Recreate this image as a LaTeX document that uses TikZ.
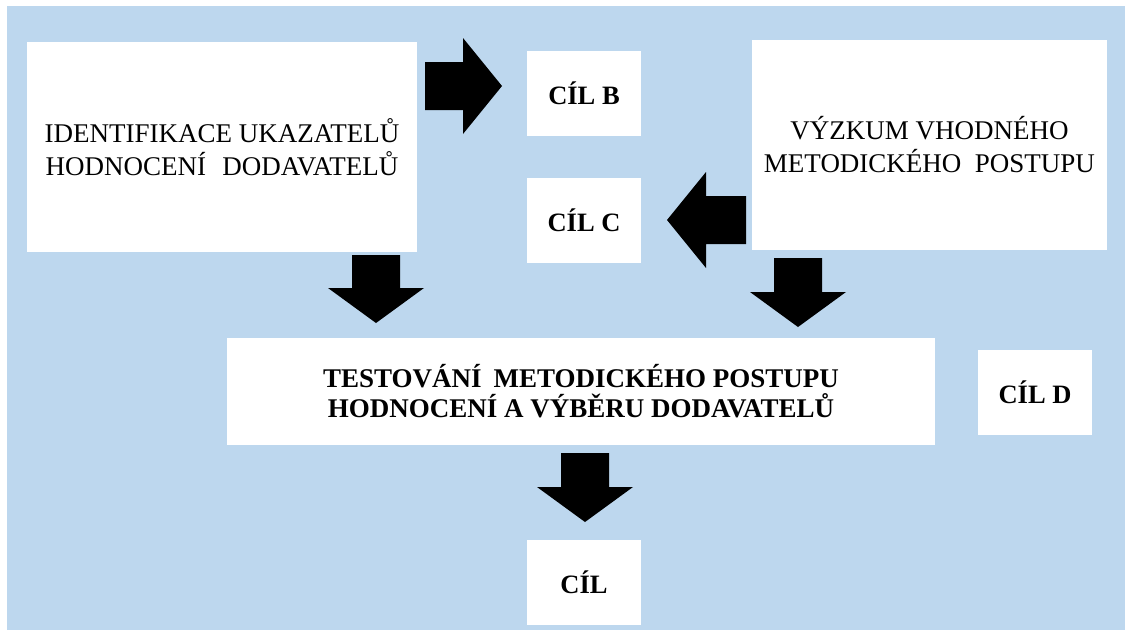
\documentclass[tikz,border=0pt]{standalone}
\usepackage{fontspec}
\setmainfont{Liberation Serif}

\definecolor{bgblue}{RGB}{189,215,238}

\tikzset{
    box/.style={fill=white, inner sep=0pt},
    goal/.style={box, minimum width=114pt, minimum height=85pt,
        font=\bfseries\fontsize{26.5}{30}\selectfont},
    plaintext/.style={align=center, font=\fontsize{27}{33}\selectfont},
    boldtext/.style={align=center, font=\bfseries\fontsize{27}{30}\selectfont}
}

\begin{document}
\begin{tikzpicture}[x=1pt,y=-1pt]

\useasboundingbox (0,0) rectangle (1125,630);
\fill[bgblue] (7,6) rectangle (1125,630);

% white boxes
\node[box, plaintext, minimum width=390pt, minimum height=210pt] (ident) at (222,147)
    {IDENTIFIKACE UKAZATELŮ\\HODNOCENÍ\hspace{0.6em}DODAVATELŮ};
\node[box, plaintext, minimum width=355pt, minimum height=210pt] (vyzkum) at (929.5,145)
    {VÝZKUM VHODNÉHO\\METODICKÉHO\hspace{0.5em}POSTUPU};
\node[box, boldtext, minimum width=708pt, minimum height=107pt] (test) at (581,391.5)
    {TESTOVÁNÍ\hspace{0.45em}METODICKÉHO POSTUPU\\HODNOCENÍ A VÝBĚRU DODAVATELŮ};

\node[goal] (cilB) at (584,93) {CÍL B};
\node[goal] (cilC) at (584,220.5) {CÍL C};
\node[goal] (cilD) at (1035,392.5) {CÍL D};
\node[goal] (cil) at (584,582.5) {CÍL};

% block arrows
\coordinate (toB) at (425,86);
\coordinate (toC) at (746,220);
\coordinate (identDown) at (376,255);
\coordinate (vyzkumDown) at (798,258);
\coordinate (testDown) at (585,453);

\foreach \v/\ang/\len/\hl in {toB/0/77/39, toC/180/79/39, identDown/-90/68/35,
    vyzkumDown/-90/69/35, testDown/-90/69/35}
{
    \fill[black, shift={(\v)}, rotate=\ang] (0,-24) -- (\len-\hl,-24) -- (\len-\hl,-48)
        -- (\len,0) -- (\len-\hl,48) -- (\len-\hl,24) -- (0,24) -- cycle;
}

\end{tikzpicture}
\end{document}
